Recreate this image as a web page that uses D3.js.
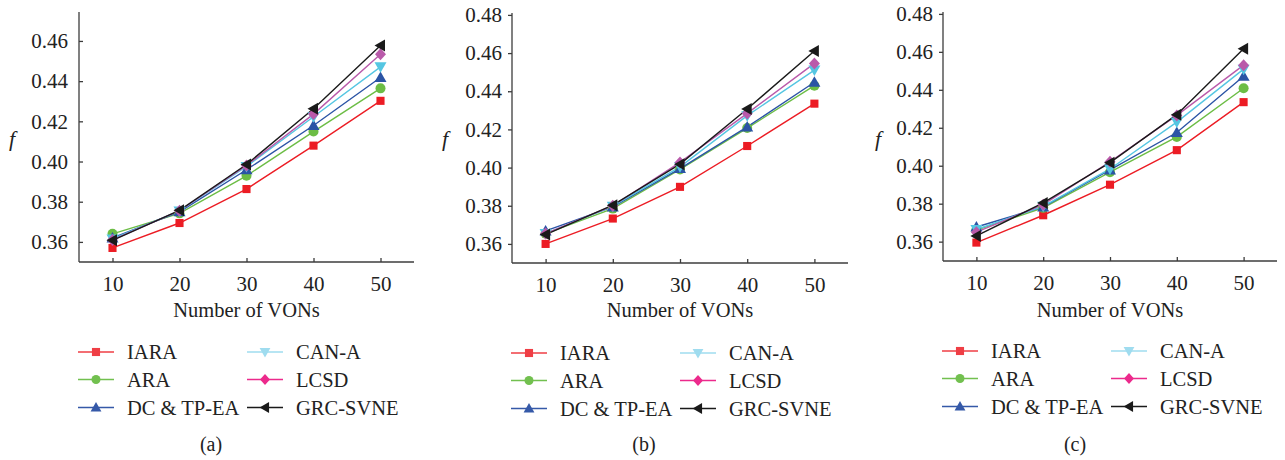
<!DOCTYPE html>
<html>
<head>
<meta charset="utf-8">
<script src="https://cdn.jsdelivr.net/npm/d3@7"></script>
<style>
  body { margin: 0; background: #fff; }
  svg { display: block; }
  svg text { font-family: "Times New Roman", "Liberation Serif", Tinos, "DejaVu Serif", serif; }
</style>
</head>
<body>
<svg id="chart" width="1285" height="460"></svg>
<script>
// x values (number of VONs)
const vons = [10, 20, 30, 40, 50];
const seriesNames = ["IARA", "ARA", "DC & TP-EA", "CAN-A", "LCSD", "GRC-SVNE"];

// f values per series, same order as seriesNames
const dataA = [
  [0.3570, 0.3694, 0.3863, 0.4079, 0.4302],
  [0.3640, 0.3742, 0.3929, 0.4149, 0.4364],
  [0.3620, 0.3750, 0.3959, 0.4179, 0.4418],
  [0.3615, 0.3754, 0.3975, 0.4223, 0.4471],
  [0.3610, 0.3755, 0.3980, 0.4236, 0.4534],
  [0.3608, 0.3757, 0.3985, 0.4263, 0.4577]
];
const dataB = [
  [0.3600, 0.3733, 0.3899, 0.4113, 0.4335],
  [0.3654, 0.3785, 0.3990, 0.4207, 0.4429],
  [0.3668, 0.3794, 0.3995, 0.4213, 0.4447],
  [0.3654, 0.3798, 0.4004, 0.4272, 0.4511],
  [0.3654, 0.3800, 0.4027, 0.4284, 0.4546],
  [0.3649, 0.3803, 0.4018, 0.4307, 0.4611]
];
const dataC = [
  [0.3595, 0.3739, 0.3900, 0.4082, 0.4335],
  [0.3661, 0.3778, 0.3966, 0.4152, 0.4408],
  [0.3677, 0.3783, 0.3978, 0.4175, 0.4471],
  [0.3664, 0.3786, 0.3983, 0.4230, 0.4509],
  [0.3650, 0.3795, 0.4021, 0.4265, 0.4530],
  [0.3630, 0.3804, 0.4016, 0.4269, 0.4617]
];

const ticksA = [0.36, 0.38, 0.40, 0.42, 0.44, 0.46];
const ticksBC = [0.36, 0.38, 0.40, 0.42, 0.44, 0.46, 0.48];

const lineColors = ["#ec1c24", "#6cbd45", "#2b54a5", "#55c6e2", "#b95aaa", "#1a1a1a"];
const legendColors = ["#ef3e45", "#72c04f", "#3559a8", "#9fdcef", "#ec2a8c", "#1a1a1a"];
const symbols = ["square", "circle", "up", "down", "diamond", "left"];

const svg = d3.select("#chart");
const axisColor = "#3c3c3c";
const serif = "'Times New Roman', 'Liberation Serif', Tinos, 'DejaVu Serif', serif";

function marker(g, type, color, size) {
  const s = size;
  if (type === "square") {
    g.append("rect").attr("x", -s * 0.45).attr("y", -s * 0.45)
      .attr("width", s * 0.9).attr("height", s * 0.9).attr("fill", color);
  } else if (type === "circle") {
    g.append("circle").attr("r", s * 0.5).attr("fill", color);
  } else if (type === "up") {
    g.append("path").attr("d", `M0,${-s * 0.6}L${s * 0.6},${s * 0.45}L${-s * 0.6},${s * 0.45}Z`).attr("fill", color);
  } else if (type === "down") {
    g.append("path").attr("d", `M0,${s * 0.6}L${s * 0.6},${-s * 0.45}L${-s * 0.6},${-s * 0.45}Z`).attr("fill", color);
  } else if (type === "diamond") {
    g.append("path").attr("d", `M0,${-s * 0.6}L${s * 0.55},0L0,${s * 0.6}L${-s * 0.55},0Z`).attr("fill", color);
  } else if (type === "left") {
    g.append("path").attr("d", `M${-s * 0.6},0L${s * 0.45},${-s * 0.6}L${s * 0.45},${s * 0.6}Z`).attr("fill", color);
  }
}

function panel(cfg) {
  const x = d3.scaleLinear().domain([5, 55]).range([cfg.left, cfg.right]);
  const y = d3.scaleLinear().domain(cfg.yDomain).range([cfg.bottom, cfg.top]);
  const g = svg.append("g");

  // y axis
  const yAxis = d3.axisLeft(y).tickValues(cfg.yTicks).tickFormat(d3.format(".2f"))
    .tickSize(cfg.yInward ? -4 : 4).tickPadding(cfg.yInward ? 11 : 6);
  const ya = g.append("g").attr("transform", `translate(${cfg.left},0)`).call(yAxis);
  ya.select(".domain").attr("d", `M0,${cfg.top}V${cfg.bottom}`);

  // x axis
  const xAxis = d3.axisBottom(x).tickValues(vons).tickSize(-4).tickPadding(14);
  const xa = g.append("g").attr("transform", `translate(0,${cfg.bottom})`).call(xAxis);
  xa.select(".domain").attr("d", `M${cfg.left},0H${cfg.right}`);

  [ya, xa].forEach(a => {
    a.attr("font-family", null).attr("font-size", null);
    a.selectAll(".domain, line").attr("stroke", axisColor).attr("stroke-width", 1.3);
    a.selectAll("text").attr("fill", "#222").style("font-size", "21px")
      .style("font-family", serif);
  });

  g.append("text")
    .attr("x", cfg.fX).attr("y", 146)
    .attr("fill", "#222").style("font-size", "22px").style("font-style", "italic")
    .text("f");

  g.append("text")
    .attr("x", (cfg.left + cfg.right) / 2).attr("y", 317)
    .attr("text-anchor", "middle").attr("fill", "#222").style("font-size", "20.5px")
    .text("Number of VONs");

  const line = d3.line().x((d, i) => x(vons[i])).y(d => y(d));
  cfg.data.forEach((vals, s) => {
    g.append("path").datum(vals).attr("d", line)
      .attr("fill", "none").attr("stroke", lineColors[s]).attr("stroke-width", 1.4);
  });
  cfg.data.forEach((vals, s) => {
    vals.forEach((v, i) => {
      const m = g.append("g").attr("transform", `translate(${x(vons[i])},${y(v)})`);
      marker(m, symbols[s], lineColors[s], s === 0 ? 9 : 10);
    });
  });

  // legend
  const rowsY = [cfg.legendY, cfg.legendY + 27.5, cfg.legendY + 55.5];
  seriesNames.forEach((name, s) => {
    const col = Math.floor(s / 3);
    const row = s % 3;
    const lx = cfg.left + col * 169;
    const ly = rowsY[row];
    const lg = g.append("g");
    lg.append("line").attr("x1", lx - 1).attr("x2", lx + 35).attr("y1", ly).attr("y2", ly)
      .attr("stroke", legendColors[s]).attr("stroke-width", 1.6);
    const m = lg.append("g").attr("transform", `translate(${lx + 17},${ly})`);
    marker(m, symbols[s], legendColors[s], 9);
    lg.append("text").attr("x", lx + 48).attr("y", ly + 7)
      .attr("fill", "#222").style("font-size", "20.5px").text(name);
  });

  g.append("text")
    .attr("x", cfg.left + 132).attr("y", 451)
    .attr("text-anchor", "middle").attr("fill", "#222").style("font-size", "20px")
    .text(cfg.caption);
}

panel({ data: dataA, left: 79, right: 414, top: 12, bottom: 262, yDomain: [0.35, 0.4744],
  yTicks: ticksA, yInward: true, fX: 9, legendY: 352, caption: "(a)" });
panel({ data: dataB, left: 512, right: 848, top: 13, bottom: 263, yDomain: [0.35, 0.481],
  yTicks: ticksBC, yInward: false, fX: 442, legendY: 353, caption: "(b)" });
panel({ data: dataC, left: 943, right: 1277, top: 12, bottom: 261, yDomain: [0.3498, 0.481],
  yTicks: ticksBC, yInward: false, fX: 875, legendY: 351, caption: "(c)" });
</script>
</body>
</html>
